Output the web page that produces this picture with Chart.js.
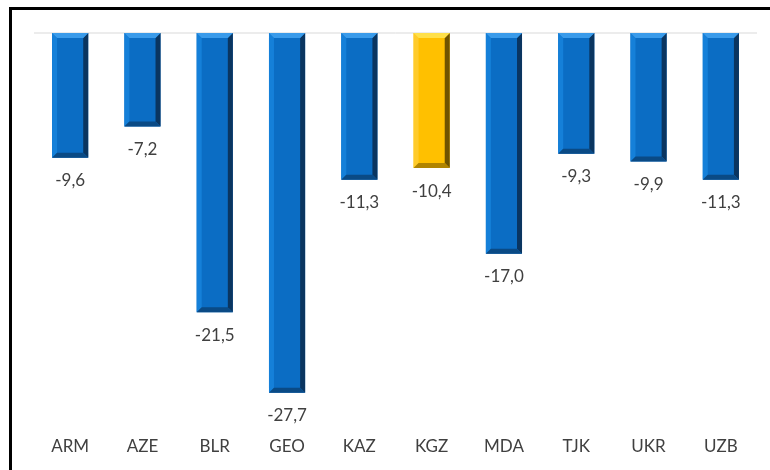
<!DOCTYPE html>
<html>
<head>
<meta charset="utf-8">
<script src="https://cdn.jsdelivr.net/npm/chart.js@4.4.1/dist/chart.umd.min.js"></script>
<style>
  html, body { margin: 0; padding: 0; background: #fff; overflow: hidden; }
  #frame { position: absolute; left: 9px; top: 7px; width: 820px; height: 520px; border: 3px solid #000; }
  #wrap { position: absolute; left: 0; top: 0; width: 770px; height: 470px; }
</style>
</head>
<body>
<div id="frame"></div>
<div id="wrap"><canvas id="chart" width="770" height="470"></canvas></div>
<script>
const categories = ["ARM", "AZE", "BLR", "GEO", "KAZ", "KGZ", "MDA", "TJK", "UKR", "UZB"];
const values = [-9.6, -7.2, -21.5, -27.7, -11.3, -10.4, -17.0, -9.3, -9.9, -11.3];
const highlighted = "KGZ";

const blue = { face: "#0b6dc4", top: "#3a9bea", left: "#1580d9", right: "#0a3560", bottom: "#0a4a85" };
const gold = { face: "#ffc000", top: "#ffe04a", left: "#ffcb2a", right: "#6e5300", bottom: "#b08400" };
const paletteFor = (i) => categories[i] === highlighted ? gold : blue;

// bevel look painted on top of each bar
const bevelPlugin = {
    id: "bevel",
    afterDatasetsDraw(chart) {
        const ctx = chart.ctx;
        const meta = chart.getDatasetMeta(0);
        meta.data.forEach((bar, i) => {
            const p = bar.getProps(["x", "y", "base", "width"], true);
            const L = p.x - p.width / 2, R = p.x + p.width / 2;
            const T = Math.min(p.y, p.base), B = Math.max(p.y, p.base);
            const b = 5;
            const c = paletteFor(i);
            const poly = (pts, color) => {
                ctx.beginPath();
                ctx.moveTo(pts[0][0], pts[0][1]);
                pts.slice(1).forEach(q => ctx.lineTo(q[0], q[1]));
                ctx.closePath();
                ctx.fillStyle = color;
                ctx.fill();
            };
            ctx.save();
            poly([[L, T], [L, B], [L + b, B - b], [L + b, T + b]], c.left);
            poly([[R, T], [R, B], [R - b, B - b], [R - b, T + b]], c.right);
            poly([[L, T], [R, T], [R - b, T + b], [L + b, T + b]], c.top);
            poly([[L, B], [R, B], [R - b, B - b], [L + b, B - b]], c.bottom);
            ctx.restore();
        });
    }
};

// zero line and value labels
const labelPlugin = {
    id: "valueLabels",
    beforeDatasetsDraw(chart) {
        const ctx = chart.ctx;
        const y0 = chart.scales.y.getPixelForValue(0);
        ctx.save();
        ctx.strokeStyle = "#d9d9d9";
        ctx.lineWidth = 1;
        ctx.beginPath();
        ctx.moveTo(chart.chartArea.left, y0);
        ctx.lineTo(chart.chartArea.right, y0);
        ctx.stroke();
        ctx.restore();
    },
    afterDatasetsDraw(chart) {
        const ctx = chart.ctx;
        const meta = chart.getDatasetMeta(0);
        ctx.save();
        ctx.font = "17px Lato";
        ctx.fillStyle = "#404040";
        ctx.textAlign = "center";
        ctx.textBaseline = "middle";
        meta.data.forEach((bar, i) => {
            const txt = values[i].toFixed(1).replace(".", ",");
            ctx.fillText(txt, bar.x, bar.y + 23);
        });
        ctx.restore();
    }
};

new Chart(document.getElementById("chart"), {
    type: "bar",
    data: {
        labels: categories,
        datasets: [{
            data: values,
            backgroundColor: values.map((v, i) => paletteFor(i).face),
            borderWidth: 0,
            categoryPercentage: 1.0,
            barPercentage: 0.5
        }]
    },
    options: {
        responsive: false,
        animation: false,
        layout: { padding: { left: 34, right: 13, top: 33, bottom: 7 } },
        plugins: { legend: { display: false }, tooltip: { enabled: false } },
        scales: {
            x: {
                grid: { display: false },
                border: { display: false },
                ticks: { color: "#404040", font: { family: "Lato", size: 17 }, padding: 6 }
            },
            y: {
                display: false,
                min: -30,
                max: 0
            }
        }
    },
    plugins: [bevelPlugin, labelPlugin]
});
</script>
</body>
</html>
